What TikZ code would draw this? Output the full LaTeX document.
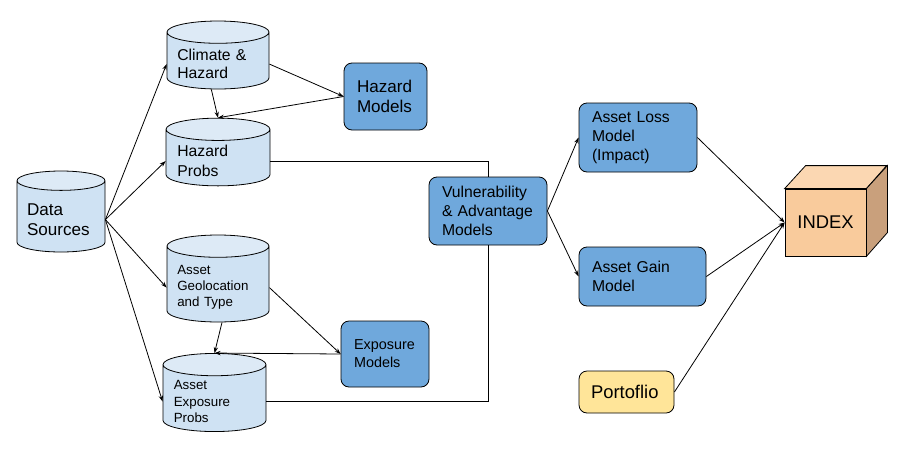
\documentclass[tikz,border=0pt]{standalone}
\usepackage{fontspec}
\setmainfont{Liberation Sans}
\usetikzlibrary{shapes.geometric,arrows.meta}
\definecolor{storeblue}{HTML}{CFE2F3}
\definecolor{storetop}{HTML}{DDEAF6}
\definecolor{modelblue}{HTML}{6FA8DC}
\definecolor{portyellow}{HTML}{FFE599}
\definecolor{cubefront}{HTML}{F9CB9C}
\definecolor{cubetop}{HTML}{FBD7B2}
\definecolor{cubeside}{HTML}{C9A07C}
\newcommand\fsize[2]{\fontsize{#1}{#2}\selectfont}
\tikzset{%
  store/.style    = {cylinder, shape border rotate=90, draw, aspect=0.22,%
                     cylinder uses custom fill, cylinder body fill=storeblue,%
                     cylinder end fill=storetop, align=left, inner xsep=7.5pt,%
                     anchor=shape center},%
  model/.style    = {rectangle, rounded corners=6pt, draw, fill=modelblue,%
                     align=left, inner xsep=9.75pt, inner ysep=0pt},%
  portnode/.style = {model, fill=portyellow},%
  flow/.style     = {-{Stealth[length=4.5pt,width=3.2pt]}}%
}
\begin{document}
\begin{tikzpicture}[x=0.75pt, y=-0.75pt, line width=0.6pt,%
	every node/.style = {font=\fsize{11.8}{14}}]%
	\useasboundingbox (0,0) rectangle (924,450);
	% data stores
	\node[store, text width=51pt, minimum height=60.75pt, minimum width=66pt,%
		font=\fsize{12.8}{15}] (src) at (61,211.5) {Data\\Sources};
	\node[store, text width=61pt, minimum height=51pt, minimum width=76.5pt,%
		font=\fsize{11.8}{13.75}] (clim) at (218,55) {Climate \&\\Hazard};
	\node[store, text width=61pt, minimum height=49.5pt, minimum width=78pt,%
		font=\fsize{11.8}{15}] (hprob) at (218,152) {Hazard\\Probs};
	\node[store, text width=61pt, minimum height=65.25pt, minimum width=76.5pt,%
		font=\fsize{10}{12}] (geo) at (218,278.5) {Asset\\Geolocation\\and Type};
	\node[store, text width=61pt, minimum height=57.75pt, minimum width=77.25pt,%
		font=\fsize{10}{12.25}] (eprob) at (214.5,392.5) {Asset\\Exposure\\Probs};
	% models
	\node[model, text width=42.75pt, minimum height=50.25pt, font=\fsize{12.8}{15.5}] (hmod) at (385.5,96.5) {Hazard\\Models};
	\node[model, text width=46.5pt, minimum height=49.5pt, font=\fsize{10.8}{13.5}] (emod) at (385,354) {Exposure\\Models};
	\node[model, text width=69pt, minimum height=51pt, font=\fsize{11.8}{14.25}] (vuln) at (488,211) {Vulnerability\\\& Advantage\\Models};
	\node[model, text width=69pt, minimum height=51.75pt, font=\fsize{11.8}{14.4}] (loss) at (638,137.5) {Asset Loss\\Model\\(Impact)};
	\node[model, text width=75.75pt, minimum height=44.25pt, font=\fsize{11.8}{14.25}] (gain) at (642.5,276.5) {Asset Gain\\Model};
	\node[portnode, text width=53.25pt, minimum height=31.5pt, inner xsep=9pt, font=\fsize{13.8}{16}] (port) at (626.5,392) {Portoflio};
	% index cube
	\node[draw, fill=cubefront, minimum width=60.75pt, minimum height=50.25pt,%
		font=\fsize{13.8}{16}] (index) at (825.5,222.5) {INDEX};
	\filldraw[fill=cubetop] (index.north west) -- ++(21,-23) -- ++(60.75pt,0) -- (index.north east) -- cycle;
	\filldraw[fill=cubeside] (index.north east) -- ++(21,-23) -- ++(0,-50.25pt) -- (index.south east) -- cycle;
	% connectors
	\draw[flow] (src.east) -- (clim.west);
	\draw[flow] (src.east) -- (hprob.west);
	\draw[flow] (src.east) -- (geo.west);
	\draw[flow] (src.east) -- (eprob.west);
	\draw[flow] (clim.east) -- (hmod.west);
	\draw[flow] ([xshift=-5pt]clim.south) -- (hprob.north);
	\draw[flow] (hmod.west) -- (hprob.north);
	\draw (hprob.east) -| (vuln.north);
	\draw (vuln.south) |- (eprob.east);
	\draw[flow] (geo.east) -- (emod.west);
	\draw[flow] ([xshift=3pt]geo.south) -- (eprob.north);
	\draw[flow] (emod.west) -- (eprob.north);
	\draw[flow] (vuln.east) -- (loss.west);
	\draw[flow] (vuln.east) -- (gain.west);
	\draw[flow] (loss.east) -- (index.west);
	\draw[flow] (gain.east) -- (index.west);
	\draw[flow] (port.east) -- (index.west);
\end{tikzpicture}
\end{document}
